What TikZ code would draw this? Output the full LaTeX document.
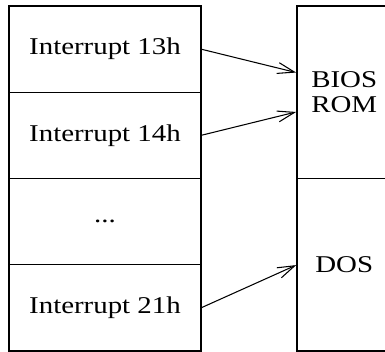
\documentclass[tikz,border=0pt]{standalone}
\usepackage{fontspec}
\setmainfont[FakeStretch=1.2]{Liberation Serif}
\usetikzlibrary{positioning}
\usetikzlibrary{arrows.meta}

\begin{document}
\begin{tikzpicture}[
    font=\fontsize{13.7}{14.2}\selectfont,
    line width=0.6pt,
    slot/.style={draw, outer sep=0pt, inner sep=0pt, minimum width=3.84cm, minimum height=1.725cm},
    area/.style={draw, outer sep=0pt, inner sep=0pt, align=center, minimum width=1.89cm, minimum height=3.45cm},
    vec/.style={-{Straight Barb[length=3.4mm, width=2.2mm, line width=0.6pt]}, shorten >=0.5pt}
  ]
  \clip (0,0) rectangle (7.7,-7.04);
  \node [slot, anchor=north west] (int13) at (0.18,-0.12) {Interrupt 13h};
  \node [slot, below=0pt of int13] (int14) {Interrupt 14h};
  \node [slot, below=0pt of int14] (dots) {...};
  \node [slot, below=0pt of dots] (int21) {Interrupt 21h};
  \node [area, anchor=north west] (bios) at (5.94,-0.12) {BIOS\\ROM};
  \node [area, below=0pt of bios] (dos) {DOS};
  \draw [vec] (int13.east) -- ([yshift=0.39cm]bios.west);
  \draw [vec] (int14.east) -- ([yshift=-0.39cm]bios.west);
  \draw [vec] (int21.east) -- (dos.west);
\end{tikzpicture}
\end{document}
